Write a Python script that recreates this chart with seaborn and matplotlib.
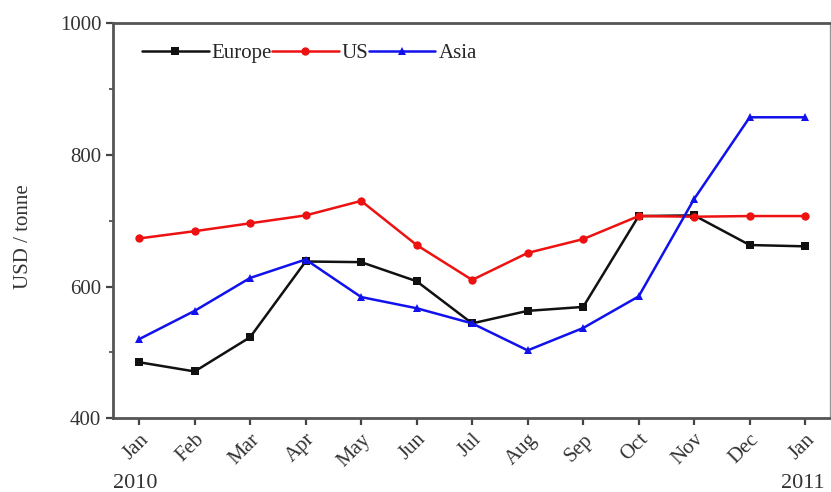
import matplotlib
matplotlib.use("Agg")
import matplotlib.pyplot as plt
from matplotlib.ticker import MultipleLocator
import seaborn as sns
import pandas as pd

months = ["Jan", "Feb", "Mar", "Apr", "May", "Jun", "Jul", "Aug", "Sep", "Oct", "Nov", "Dec", "Jan"]
europe = [485, 471, 523, 638, 637, 608, 544, 563, 569, 707, 708, 663, 661]
us = [673, 684, 696, 708, 730, 663, 610, 651, 672, 707, 706, 707, 707]
asia = [520, 563, 613, 641, 584, 567, 544, 503, 537, 585, 733, 857, 857]
regions = ["Europe", "US", "Asia"]
years = ["2010", "2011"]

sns.set_theme(style="ticks")
plt.rcParams["font.family"] = ["Liberation Serif", "DejaVu Serif"]

rows = []
for name, vals in zip(regions, [europe, us, asia]):
    for i, v in enumerate(vals):
        rows.append({"idx": i, "price": v, "region": name})
df = pd.DataFrame(rows)

fig = plt.figure(figsize=(8.31, 4.92), dpi=100)
ax = fig.add_axes([0.136, 0.150, 0.863, 0.803])

palette = {"Europe": "#111111", "US": "#ee1111", "Asia": "#1111ee"}
markers = {"Europe": "s", "US": "o", "Asia": "^"}
sns.lineplot(data=df, x="idx", y="price", hue="region", style="region",
             palette=palette, markers=markers, dashes=False,
             markersize=6, linewidth=1.8, markeredgewidth=0, ax=ax)

ax.set_xlim(-0.47, 12.45)
ax.set_ylim(400, 1000)
ax.yaxis.set_major_locator(MultipleLocator(200))
ax.yaxis.set_minor_locator(MultipleLocator(100))
ax.set_xticks(range(len(months)))
ax.set_xticklabels(months, rotation=45, ha="right", rotation_mode="anchor", fontsize=15, color="#333333")
ax.tick_params(axis="y", labelsize=15, labelcolor="#333333")
ax.tick_params(axis="both", which="major", direction="out", length=5, width=1.6, color="#444444")
ax.tick_params(axis="y", which="minor", direction="out", length=3, width=1.2, color="#444444")
ax.set_xlabel("")
ax.set_ylabel("USD / tonne", fontsize=15, color="#333333", labelpad=14)
ax.yaxis.set_label_coords(-0.112, 0.46)

for side in ["left", "bottom", "top"]:
    ax.spines[side].set_linewidth(2.0)
    ax.spines[side].set_color("#555555")
ax.spines["right"].set_linewidth(1.0)
ax.spines["right"].set_color("#999999")

ax.text(-0.07, -0.165, years[0], transform=ax.get_xaxis_transform(), ha="center", va="center",
        fontsize=16, color="#333333")
ax.text(11.95, -0.165, years[1], transform=ax.get_xaxis_transform(), ha="center", va="center",
        fontsize=16, color="#333333")

ax.legend(loc="upper left", bbox_to_anchor=(0.02, 0.985), ncol=3, frameon=False,
          fontsize=15, handlelength=3.2, handletextpad=0.15, columnspacing=0.0,
          borderaxespad=0.3)

fig.savefig("out.png", dpi=100)
